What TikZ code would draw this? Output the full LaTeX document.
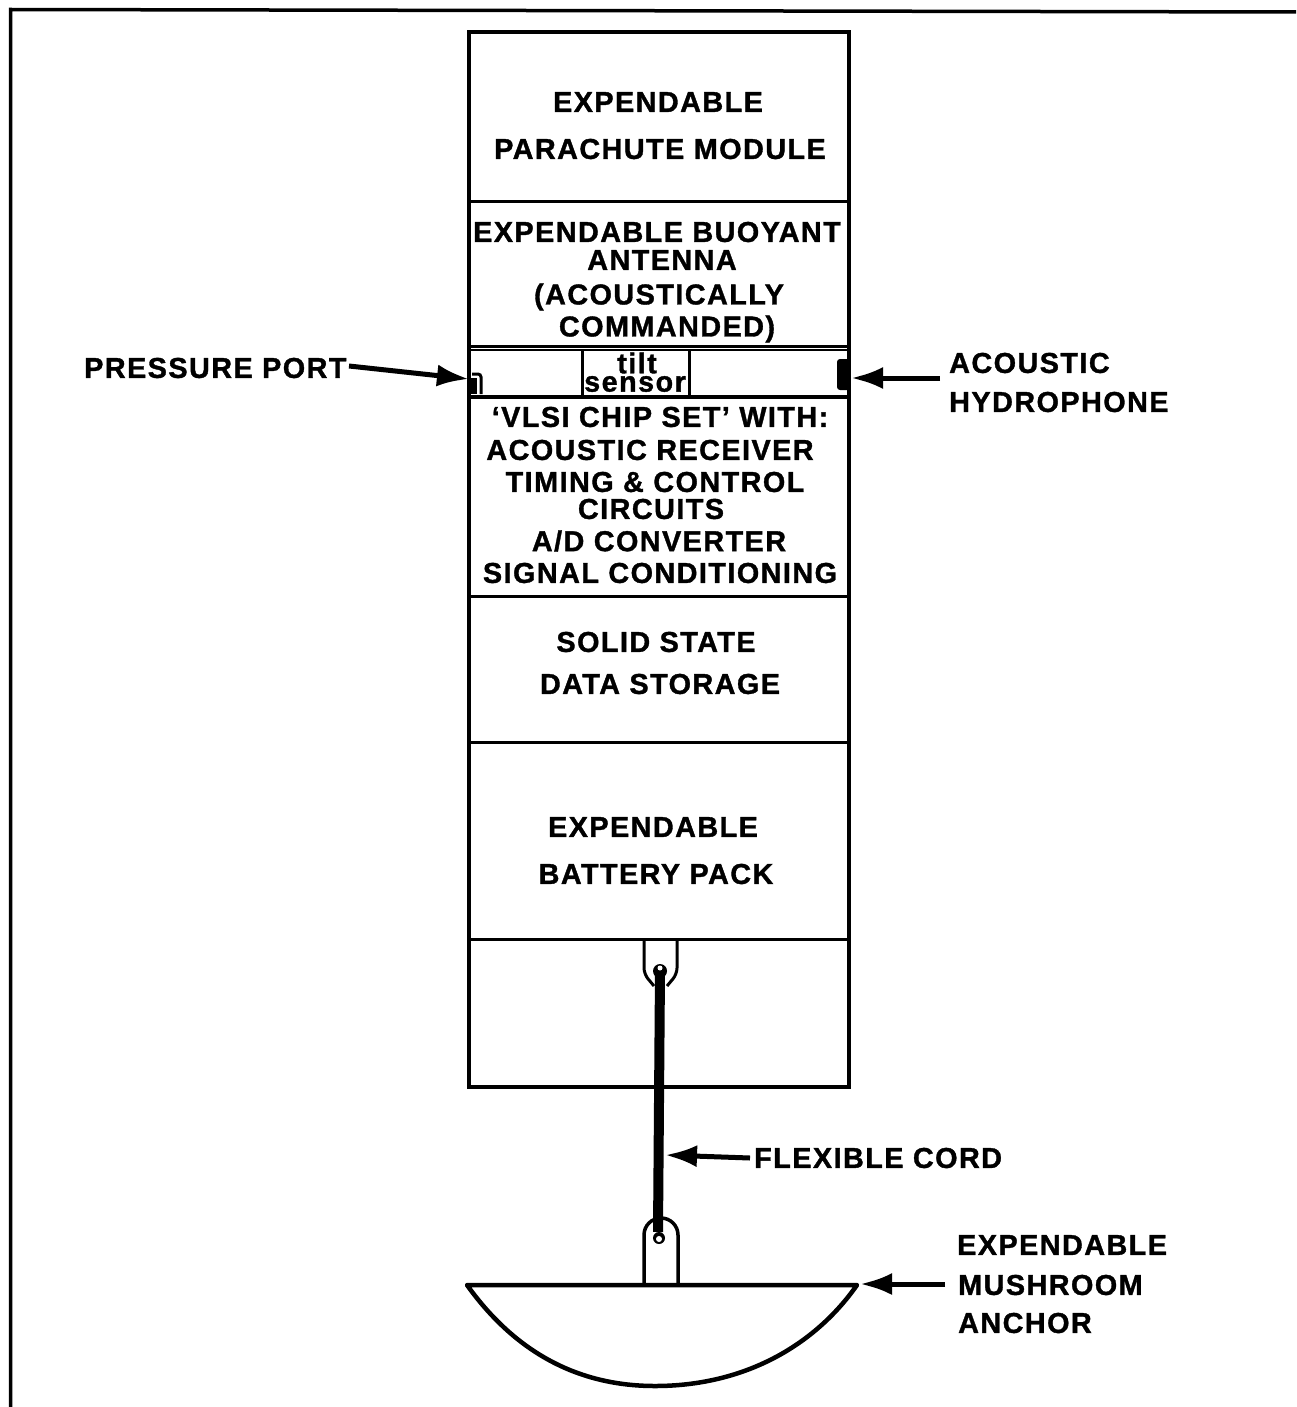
\documentclass[tikz,border=0pt]{standalone}
\usepackage{fontspec}
\usepackage{tikz}
\usetikzlibrary{arrows.meta,positioning,calc}
\newfontfamily\labelfont{Liberation Sans Bold}[LetterSpace=5.0,FakeBold=1.2]
\begin{document}
\begin{tikzpicture}[x=1pt,y=-1pt,
  lbl/.style={inner sep=0pt,font=\labelfont\fontsize{28.8}{32}\selectfont,align=center},
  side/.style={lbl,anchor=west},
  sect/.style={line width=3pt},
  wall/.style={line width=4.5pt},
  arr/.style={-{Latex[length=32pt,width=22pt]},line width=5pt},
  cord/.style={line width=10pt}
]
\useasboundingbox (0,0) rectangle (1296,1407);
% frame
\draw[line width=3.5pt] (10.5,1407) -- (10.5,9.5) -- (1296,12);
% body
\coordinate (tl) at (469,32);
\coordinate (br) at (849,1087);
\draw[wall] (tl) rectangle (br);
\foreach \yy in {201,346,596,742,939} {
  \draw[sect] (469,\yy) -- (849,\yy);
}
\draw[line width=2pt] (469,350) -- (849,350);
\draw[line width=4pt] (469,397) -- (849,397);
\draw[sect] (582,349) -- (582,397);
\draw[sect] (689,349) -- (689,397);
% section texts
\node[lbl] (chute) at (658,102) {EXPENDABLE};
\node[lbl] (chutetwo) at (660,149) {PARACHUTE MODULE};
\node[lbl] (ant) at (657,232) {EXPENDABLE BUOYANT};
\node[lbl] (anttwo) at (662,260) {ANTENNA};
\node[lbl] (antthree) at (659,297) {(ACOUSTICALLY};
\node[lbl] (antfour) at (667,329) {COMMANDED)};
\node[lbl] (tilt) at (637,363) {tilt};
\node[lbl] (sensor) at (635,384) {sensor};
\node[lbl] (vlsi) at (660,417) {‘VLSI CHIP SET’ WITH:};
\node[lbl] (rcv) at (650,450) {ACOUSTIC RECEIVER};
\node[lbl] (timing) at (655,482) {TIMING \& CONTROL};
\node[lbl] (circ) at (651,509) {CIRCUITS};
\node[lbl] (adc) at (659,541) {A/D CONVERTER};
\node[lbl] (cond) at (660,573) {SIGNAL CONDITIONING};
\node[lbl] (solid) at (656,642) {SOLID STATE};
\node[lbl] (data) at (660,684) {DATA STORAGE};
\node[lbl] (batt) at (653,827) {EXPENDABLE};
\node[lbl] (batttwo) at (656,874) {BATTERY PACK};
% side labels
\node[side] (press) at (84,368) {PRESSURE PORT};
\node[side] (acous) at (949,363) {ACOUSTIC};
\node[side] (hydro) at (949,402) {HYDROPHONE};
\node[side] (flex) at (754,1158) {FLEXIBLE CORD};
\node[side] (anchor) at (957,1245) {EXPENDABLE};
\node[side] (mush) at (958,1285) {MUSHROOM};
\node[side] (anchortwo) at (958,1323) {ANCHOR};
% port and hydrophone
\draw[line width=3pt,rounded corners=3pt] (472,374) -- (481,374) -- (481,394);
\fill (471,378) rectangle (477,394);
\fill[rounded corners=3pt] (837,359) rectangle (850,390);
% shackles
\draw[line width=3pt,rounded corners=6pt] (644,940) -- (644,974) -- (654,986);
\draw[line width=3pt,rounded corners=6pt] (677,940) -- (677,974) -- (667,986);
\draw[line width=3.5pt] (644,1284) -- (644,1235) arc[start angle=180,end angle=360,radius=17] -- (678,1284);
% cord
\coordinate (top) at (660,971);
\coordinate (bot) at (658,1232);
\draw[cord] (top) -- (bot);
\fill (top) circle[radius=7];
\fill (659,1238) circle[radius=6];
\fill[white] (660,968) circle[radius=2.5];
\fill[white] (659,1239) circle[radius=3];
% anchor
\coordinate (al) at (467,1285);
\coordinate (ar) at (857,1285);
\draw[line width=4.5pt,line join=round] (al) -- (ar) .. controls (815,1345) and (745,1386) .. (655,1386) .. controls (570,1386) and (510,1345) .. cycle;
% arrows
\coordinate (pa) at (349,366);
\coordinate (pb) at (469,379);
\draw[arr] (pa) -- (pb);
\coordinate (ha) at (940,378);
\coordinate (hb) at (851,378);
\draw[arr] (ha) -- (hb);
\coordinate (fb) at (665,1155);
\draw[arr] ([xshift=-4pt]flex.west) -- (fb);
\coordinate (aa) at (945,1284);
\coordinate (ab) at (860,1284);
\draw[arr] (aa) -- (ab);
\end{tikzpicture}
\end{document}
